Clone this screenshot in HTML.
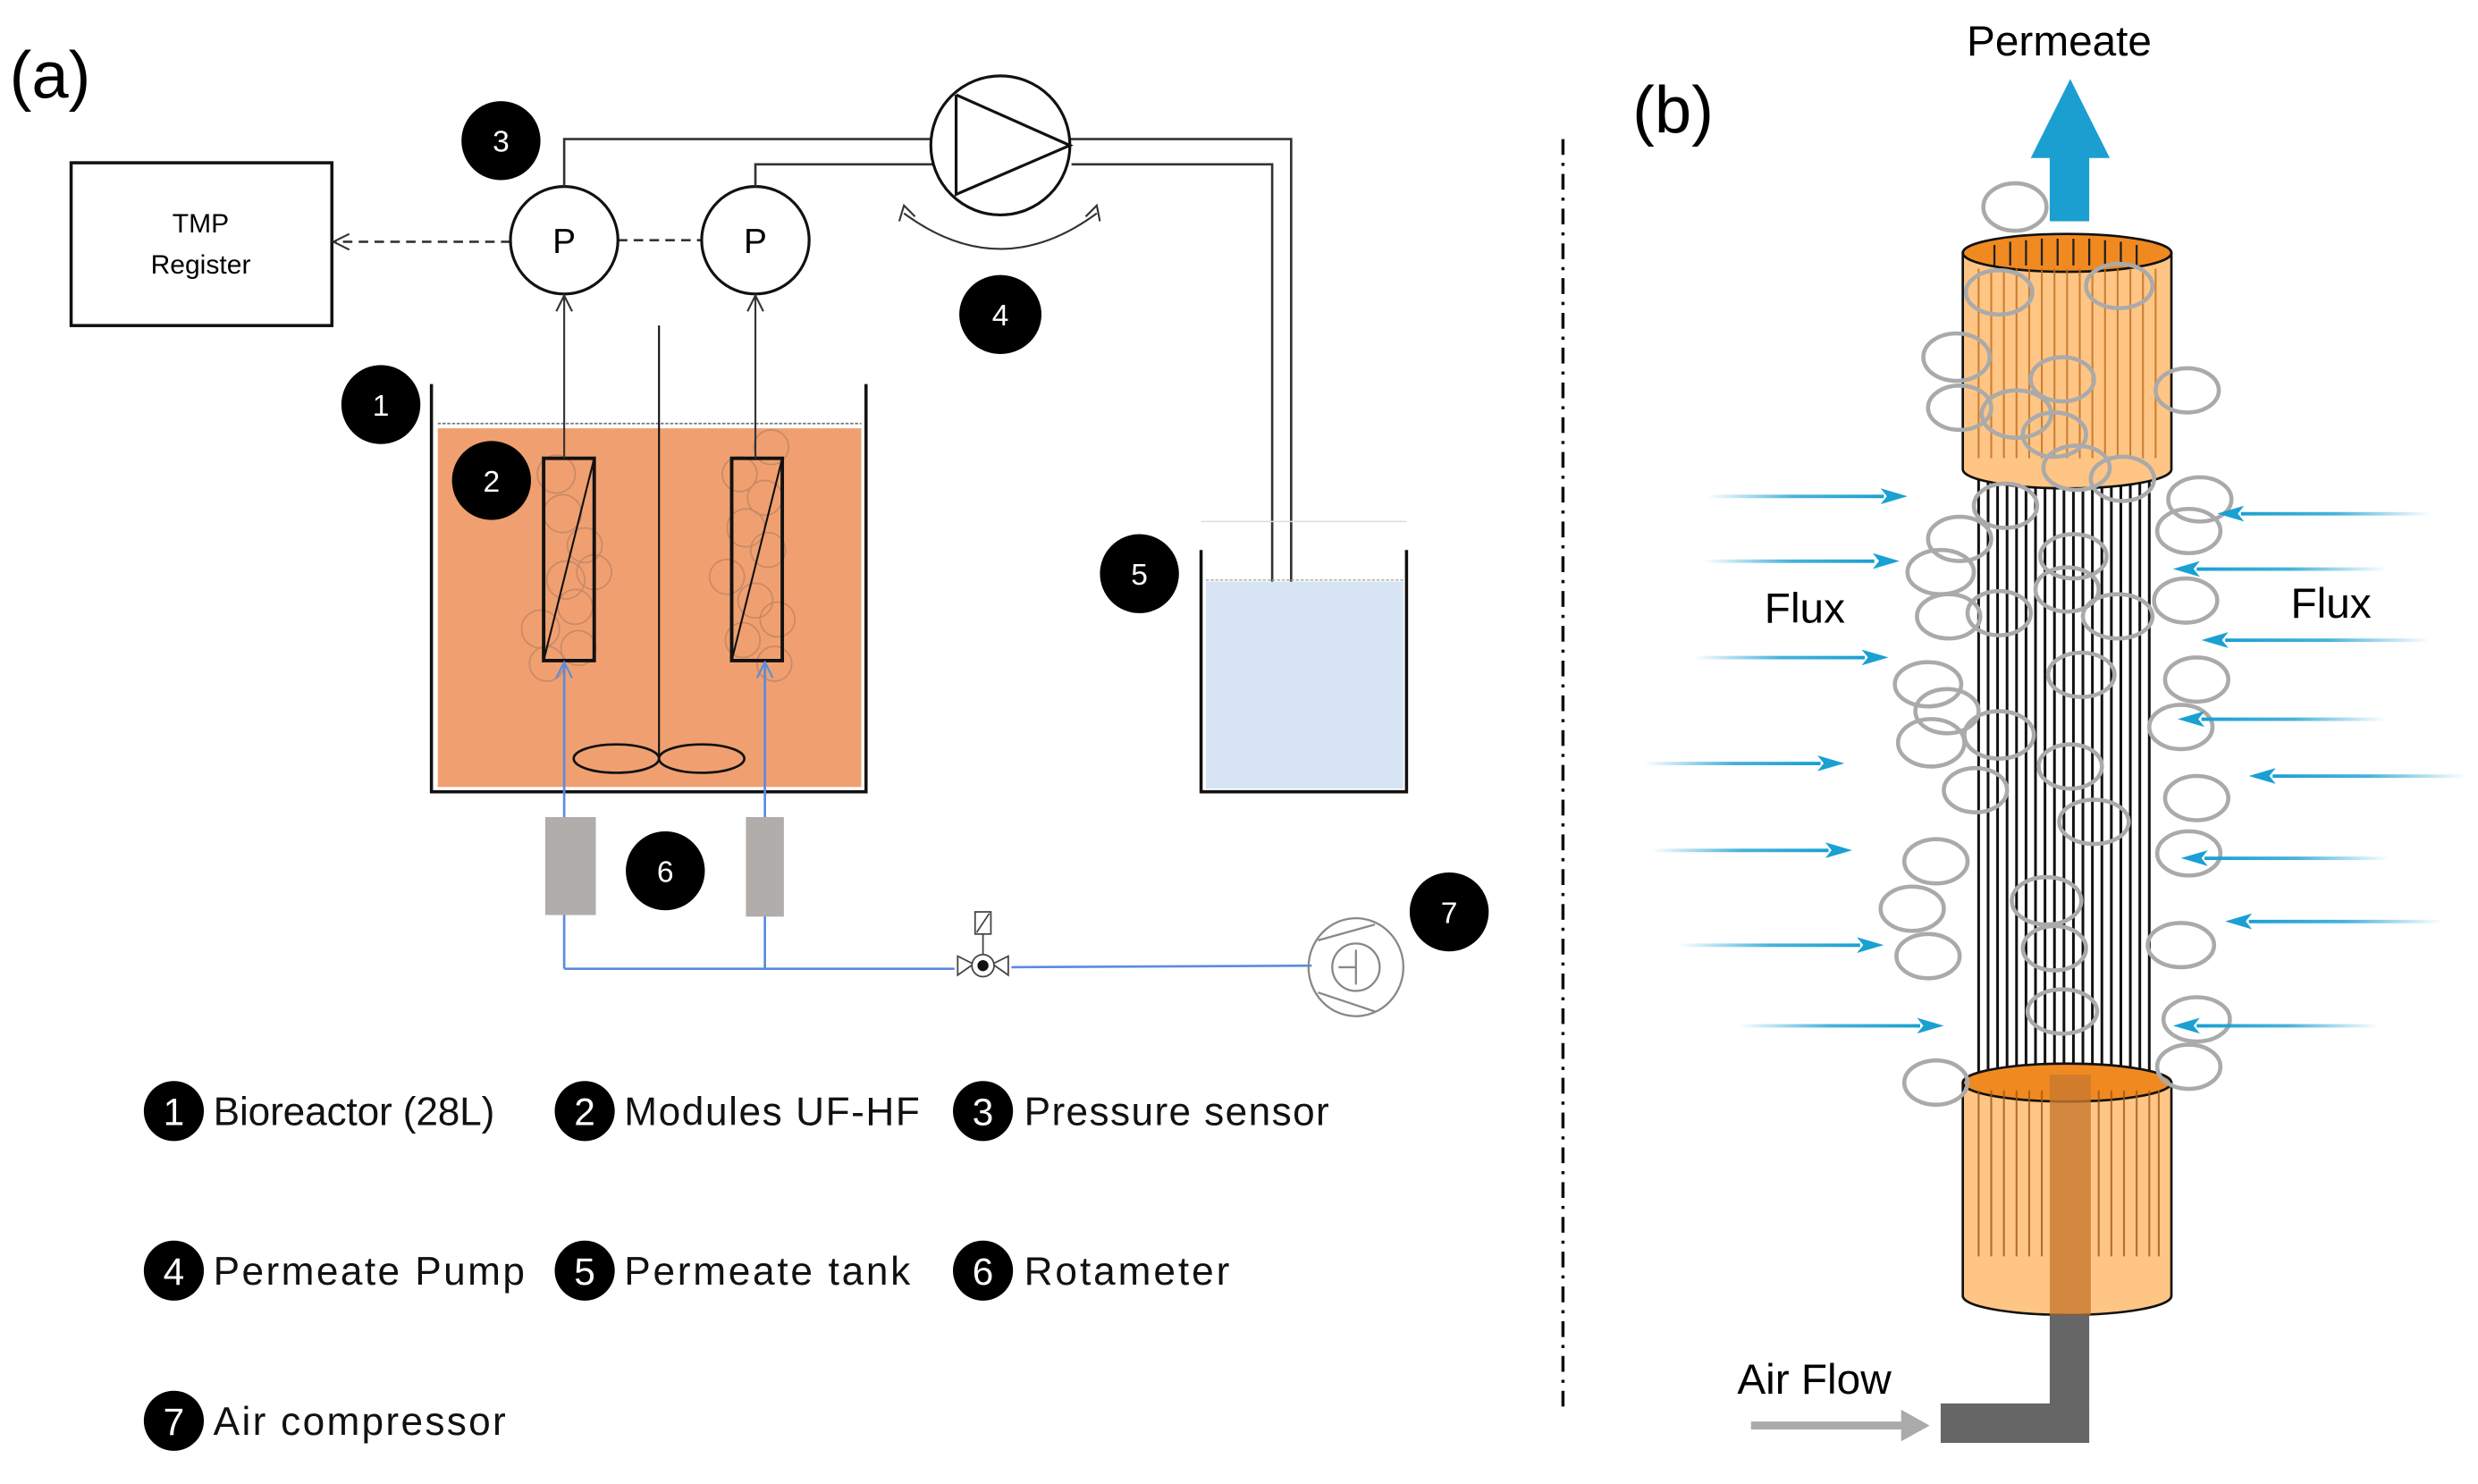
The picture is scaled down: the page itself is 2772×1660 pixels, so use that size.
<!DOCTYPE html>
<html><head><meta charset="utf-8"><style>
html,body{margin:0;padding:0;background:#fff;}
svg{display:block;}
text{font-family:"Liberation Sans",sans-serif;}
</style></head><body>
<svg width="2772" height="1660" viewBox="0 0 1568 939" preserveAspectRatio="none" xmlns="http://www.w3.org/2000/svg">
<defs>
<marker id="oa" markerWidth="12" markerHeight="12" refX="11" refY="6" orient="auto" markerUnits="userSpaceOnUse"><path d="M1,1 L11,6 L1,11" fill="none" stroke="#333" stroke-width="1.2"/></marker>
<marker id="ba" markerWidth="12" markerHeight="12" refX="11" refY="6" orient="auto" markerUnits="userSpaceOnUse"><path d="M1,1 L11,6 L1,11" fill="none" stroke="#5a8be0" stroke-width="1.2"/></marker>
<linearGradient id="gl" x1="0" x2="1" y1="0" y2="0"><stop offset="0" stop-color="#1aa0d2" stop-opacity="0"/><stop offset="0.5" stop-color="#1aa0d2" stop-opacity="0.8"/><stop offset="1" stop-color="#1aa0d2"/></linearGradient>
<linearGradient id="gr" x1="1" x2="0" y1="0" y2="0"><stop offset="0" stop-color="#1aa0d2" stop-opacity="0"/><stop offset="0.5" stop-color="#1aa0d2" stop-opacity="0.8"/><stop offset="1" stop-color="#1aa0d2"/></linearGradient>
</defs>
<text x="6" y="62" font-size="42">(a)</text>
<rect x="45" y="103" width="165" height="103" fill="none" stroke="#111" stroke-width="2"/>
<text x="127" y="147" font-size="17" text-anchor="middle">TMP</text>
<text x="127" y="173" font-size="17" text-anchor="middle">Register</text>
<line x1="323" y1="153" x2="211" y2="153" stroke="#333" stroke-width="1.5" stroke-dasharray="6,4" marker-end="url(#oa)"/>
<line x1="391" y1="152" x2="444" y2="152" stroke="#333" stroke-width="1.5" stroke-dasharray="6,4"/>
<g fill="#fff" stroke="#111" stroke-width="1.8"><circle cx="357" cy="152" r="34"/><circle cx="478" cy="152" r="34"/></g>
<text x="357" y="160" font-size="22" text-anchor="middle">P</text>
<text x="478" y="160" font-size="22" text-anchor="middle">P</text>
<g fill="none" stroke="#333" stroke-width="1.5">
<polyline points="357,118 357,88 590,88"/>
<polyline points="478,118 478,104 591,104"/>
<polyline points="676,88 817,88 817,385"/>
<polyline points="678,104 805,104 805,385"/>
</g>
<circle cx="633" cy="92" r="44" fill="#fff" stroke="#111" stroke-width="1.8"/>
<polyline points="605,60 605,123 677,92 605,60" fill="none" stroke="#111" stroke-width="1.8"/>
<path d="M572,135 Q633,180 694,135" fill="none" stroke="#333" stroke-width="1.2"/>
<path d="M569,140 L572,130 L579,137 M687,137 L694,130 L696,140" fill="none" stroke="#333" stroke-width="1.2"/>
<!-- tank 1 -->
<rect x="277" y="271" width="268" height="227" fill="#f0a070"/>
<line x1="277" y1="268" x2="545" y2="268" stroke="#777" stroke-width="1" stroke-dasharray="2,1"/>
<polyline points="273,243 273,501 548,501 548,243" fill="none" stroke="#111" stroke-width="2"/>
<line x1="417" y1="206" x2="417" y2="478" stroke="#111" stroke-width="1.2"/>
<ellipse cx="390" cy="480" rx="27" ry="9" fill="none" stroke="#111" stroke-width="1.5"/>
<ellipse cx="444" cy="480" rx="27" ry="9" fill="none" stroke="#111" stroke-width="1.5"/>
<g fill="none" stroke="#c98a66" stroke-width="1">
<circle cx="352" cy="300" r="12"/><circle cx="356" cy="325" r="12"/><circle cx="370" cy="345" r="11"/><circle cx="358" cy="367" r="12"/><circle cx="376" cy="362" r="11"/><circle cx="364" cy="384" r="11"/><circle cx="342" cy="398" r="12"/><circle cx="366" cy="410" r="11"/><circle cx="346" cy="420" r="11"/>
<circle cx="468" cy="300" r="11"/><circle cx="488" cy="283" r="11"/><circle cx="484" cy="315" r="11"/><circle cx="472" cy="334" r="12"/><circle cx="486" cy="348" r="11"/><circle cx="460" cy="365" r="11"/><circle cx="478" cy="380" r="11"/><circle cx="492" cy="392" r="11"/><circle cx="470" cy="405" r="11"/><circle cx="490" cy="420" r="11"/>
</g>
<g fill="none" stroke="#111" stroke-width="2.2">
<rect x="344" y="290" width="32" height="128"/><rect x="463" y="290" width="32" height="128"/>
</g>
<line x1="344" y1="418" x2="376" y2="290" stroke="#111" stroke-width="1.2"/>
<line x1="463" y1="418" x2="495" y2="290" stroke="#111" stroke-width="1.2"/>
<line x1="357" y1="290" x2="357" y2="187" stroke="#333" stroke-width="1.2" marker-end="url(#oa)"/>
<line x1="478" y1="290" x2="478" y2="187" stroke="#333" stroke-width="1.2" marker-end="url(#oa)"/>
<!-- air lines -->
<g fill="none" stroke="#5a8be0" stroke-width="1.5">
<line x1="357" y1="613" x2="357" y2="419" marker-end="url(#ba)"/>
<line x1="484" y1="613" x2="484" y2="419" marker-end="url(#ba)"/>
<line x1="357" y1="613" x2="604" y2="613"/>
<line x1="640" y1="612" x2="830" y2="611"/>
</g>
<rect x="345" y="517" width="32" height="62" fill="#b0adab"/>
<rect x="472" y="517" width="24" height="63" fill="#b0adab"/>
<!-- valve -->
<g stroke="#444" stroke-width="1" fill="#fff">
<rect x="617" y="577" width="10" height="14"/><line x1="618" y1="590" x2="626" y2="578"/>
<line x1="622" y1="591" x2="622" y2="604"/>
<path d="M606,605 L616,610 L606,617Z M638,605 L628,610 L638,617Z"/>
<circle cx="622" cy="611" r="7"/>
</g>
<circle cx="622" cy="611" r="3.5" fill="#111"/>
<!-- compressor -->
<g fill="none" stroke="#888" stroke-width="1.3">
<ellipse cx="858" cy="612" rx="30" ry="31"/>
<circle cx="858" cy="612" r="15"/>
<line x1="847" y1="612" x2="858" y2="612"/><line x1="858" y1="601" x2="858" y2="623"/>
<line x1="834" y1="595" x2="870" y2="585"/><line x1="834" y1="628" x2="870" y2="640"/>
</g>
<!-- tank 5 -->
<rect x="763" y="368" width="125" height="131" fill="#d6e4f4"/>
<line x1="763" y1="367" x2="888" y2="367" stroke="#aaa" stroke-width="0.8" stroke-dasharray="2,1"/>
<line x1="760" y1="330" x2="890" y2="330" stroke="#ddd" stroke-width="0.8"/>
<polyline points="760,348 760,501 890,501 890,348" fill="none" stroke="#111" stroke-width="2"/>
<!-- number badges -->
<g fill="#000">
<ellipse cx="317" cy="89" rx="25" ry="25"/><ellipse cx="633" cy="199" rx="26" ry="25"/><ellipse cx="241" cy="256" rx="25" ry="25"/><ellipse cx="311" cy="304" rx="25" ry="25"/><ellipse cx="721" cy="363" rx="25" ry="25"/><ellipse cx="421" cy="551" rx="25" ry="25"/><ellipse cx="917" cy="577" rx="25" ry="25"/>
</g>
<g fill="#fff" font-size="19" text-anchor="middle">
<text x="317" y="96">3</text><text x="633" y="206">4</text><text x="241" y="263">1</text><text x="311" y="311">2</text><text x="721" y="370">5</text><text x="421" y="558">6</text><text x="917" y="584">7</text>
</g>
<!-- legend -->
<g fill="#000"><circle cx="110" cy="703" r="19"/><circle cx="370" cy="703" r="19"/><circle cx="622" cy="703" r="19"/><circle cx="110" cy="804" r="19"/><circle cx="370" cy="804" r="19"/><circle cx="622" cy="804" r="19"/><circle cx="110" cy="899" r="19"/></g>
<g fill="#fff" font-size="24" text-anchor="middle">
<text x="110" y="712">1</text><text x="370" y="712">2</text><text x="622" y="712">3</text><text x="110" y="813">4</text><text x="370" y="813">5</text><text x="622" y="813">6</text><text x="110" y="908">7</text>
</g>
<g font-size="25" fill="#111">
<text x="135" y="712" textLength="178">Bioreactor (28L)</text><text x="395" y="712" textLength="187">Modules UF-HF</text><text x="648" y="712" textLength="193">Pressure sensor</text>
<text x="135" y="813" textLength="197">Permeate Pump</text><text x="395" y="813" textLength="181">Permeate tank</text><text x="648" y="813" textLength="130">Rotameter</text>
<text x="135" y="908" textLength="185">Air compressor</text>
</g>
<line x1="989" y1="88" x2="989" y2="892" stroke="#111" stroke-width="2" stroke-dasharray="10,5,2,5"/>
<!-- panel b -->
<text x="1033" y="84" font-size="42">(b)</text>
<text x="1303" y="35" font-size="27" text-anchor="middle">Permeate</text>
<rect x="1297" y="98" width="25" height="42" fill="#1a9fd0"/>
<polygon points="1285,100 1310,50 1335,100" fill="#1a9fd0"/>
<!-- fibers -->
<g stroke="#111" stroke-width="1.7">
<line x1="1252" y1="296" x2="1252" y2="690"/><line x1="1258" y1="296" x2="1258" y2="690"/><line x1="1264" y1="296" x2="1264" y2="690"/><line x1="1270" y1="296" x2="1270" y2="690"/><line x1="1276" y1="296" x2="1276" y2="690"/><line x1="1282" y1="296" x2="1282" y2="690"/><line x1="1288" y1="296" x2="1288" y2="690"/><line x1="1294" y1="296" x2="1294" y2="690"/><line x1="1300" y1="296" x2="1300" y2="690"/><line x1="1306" y1="296" x2="1306" y2="690"/><line x1="1312" y1="296" x2="1312" y2="690"/><line x1="1318" y1="296" x2="1318" y2="690"/><line x1="1324" y1="296" x2="1324" y2="690"/><line x1="1330" y1="296" x2="1330" y2="690"/><line x1="1336" y1="296" x2="1336" y2="690"/><line x1="1342" y1="296" x2="1342" y2="690"/><line x1="1348" y1="296" x2="1348" y2="690"/><line x1="1354" y1="296" x2="1354" y2="690"/><line x1="1360" y1="296" x2="1360" y2="690"/>
</g>
<!-- top cylinder -->
<path d="M1242,160 L1242,297 A66,12 0 0 0 1374,297 L1374,160Z" fill="#ffc585" stroke="#111" stroke-width="1.5"/>
<ellipse cx="1308" cy="160" rx="66" ry="12" fill="#f08a20" stroke="#111" stroke-width="1.5"/>
<g stroke="#c07020" stroke-width="1.2" opacity="0.8">
<line x1="1252" y1="170" x2="1252" y2="290"/><line x1="1260" y1="170" x2="1260" y2="290"/><line x1="1268" y1="170" x2="1268" y2="290"/><line x1="1276" y1="170" x2="1276" y2="290"/><line x1="1284" y1="170" x2="1284" y2="290"/><line x1="1292" y1="170" x2="1292" y2="290"/><line x1="1300" y1="170" x2="1300" y2="290"/><line x1="1308" y1="170" x2="1308" y2="290"/><line x1="1316" y1="170" x2="1316" y2="290"/><line x1="1324" y1="170" x2="1324" y2="290"/><line x1="1332" y1="170" x2="1332" y2="290"/><line x1="1340" y1="170" x2="1340" y2="290"/><line x1="1348" y1="170" x2="1348" y2="290"/><line x1="1356" y1="170" x2="1356" y2="290"/><line x1="1364" y1="170" x2="1364" y2="290"/>
</g>
<g stroke="#222" stroke-width="1.3"><line x1="1262" y1="155" x2="1262" y2="168"/><line x1="1272" y1="153" x2="1272" y2="168"/><line x1="1282" y1="152" x2="1282" y2="168"/><line x1="1292" y1="151" x2="1292" y2="168"/><line x1="1302" y1="151" x2="1302" y2="168"/><line x1="1312" y1="151" x2="1312" y2="168"/><line x1="1322" y1="151" x2="1322" y2="168"/><line x1="1332" y1="152" x2="1332" y2="168"/><line x1="1342" y1="153" x2="1342" y2="168"/><line x1="1352" y1="155" x2="1352" y2="168"/></g>
<!-- bottom cylinder -->
<path d="M1242,685 L1242,820 A66,12 0 0 0 1374,820 L1374,685Z" fill="#ffc585" stroke="#111" stroke-width="1.5"/>
<ellipse cx="1308" cy="685" rx="66" ry="12" fill="#f08a20" stroke="#111" stroke-width="1.5"/>
<rect x="1297" y="680" width="26" height="152" fill="#c87830" opacity="0.8"/>
<g stroke="#a05a18" stroke-width="1.2" opacity="0.8">
<line x1="1252" y1="690" x2="1252" y2="795"/><line x1="1260" y1="690" x2="1260" y2="795"/><line x1="1268" y1="690" x2="1268" y2="795"/><line x1="1276" y1="690" x2="1276" y2="795"/><line x1="1284" y1="690" x2="1284" y2="795"/><line x1="1292" y1="690" x2="1292" y2="795"/><line x1="1328" y1="690" x2="1328" y2="795"/><line x1="1336" y1="690" x2="1336" y2="795"/><line x1="1344" y1="690" x2="1344" y2="795"/><line x1="1352" y1="690" x2="1352" y2="795"/><line x1="1360" y1="690" x2="1360" y2="795"/><line x1="1366" y1="690" x2="1366" y2="795"/>
</g>
<!-- pipe -->
<path d="M1297,832 L1322,832 L1322,913 L1228,913 L1228,888 L1297,888Z" fill="#666"/>
<text x="1148" y="882" font-size="27" text-anchor="middle">Air Flow</text>
<line x1="1108" y1="902" x2="1205" y2="902" stroke="#aaa" stroke-width="5"/>
<polygon points="1203,892 1221,902 1203,912" fill="#aaa"/>
<!-- bubbles -->
<g fill="none" stroke="#aaa" stroke-width="2.6">
<ellipse cx="1275" cy="131" rx="20" ry="15"/>
<ellipse cx="1265" cy="185" rx="21" ry="14"/><ellipse cx="1341" cy="181" rx="21" ry="14"/>
<ellipse cx="1238" cy="226" rx="21" ry="15"/><ellipse cx="1240" cy="258" rx="20" ry="14"/><ellipse cx="1276" cy="262" rx="22" ry="15"/><ellipse cx="1305" cy="240" rx="20" ry="14"/><ellipse cx="1300" cy="275" rx="20" ry="14"/><ellipse cx="1384" cy="247" rx="20" ry="14"/>
<ellipse cx="1314" cy="296" rx="21" ry="14"/><ellipse cx="1343" cy="303" rx="20" ry="14"/><ellipse cx="1269" cy="320" rx="20" ry="14"/><ellipse cx="1392" cy="316" rx="20" ry="14"/><ellipse cx="1385" cy="336" rx="20" ry="14"/>
<ellipse cx="1240" cy="341" rx="20" ry="14"/><ellipse cx="1228" cy="362" rx="21" ry="14"/><ellipse cx="1312" cy="352" rx="21" ry="14"/><ellipse cx="1308" cy="373" rx="20" ry="14"/><ellipse cx="1233" cy="390" rx="20" ry="14"/><ellipse cx="1265" cy="388" rx="20" ry="14"/><ellipse cx="1340" cy="390" rx="22" ry="14"/><ellipse cx="1383" cy="380" rx="20" ry="14"/>
<ellipse cx="1317" cy="427" rx="21" ry="14"/><ellipse cx="1220" cy="433" rx="21" ry="14"/><ellipse cx="1232" cy="450" rx="20" ry="14"/><ellipse cx="1390" cy="430" rx="20" ry="14"/><ellipse cx="1380" cy="460" rx="20" ry="14"/>
<ellipse cx="1222" cy="470" rx="21" ry="15"/><ellipse cx="1265" cy="465" rx="22" ry="15"/><ellipse cx="1310" cy="485" rx="20" ry="14"/><ellipse cx="1325" cy="520" rx="22" ry="14"/><ellipse cx="1250" cy="500" rx="20" ry="14"/>
<ellipse cx="1390" cy="505" rx="20" ry="14"/><ellipse cx="1385" cy="540" rx="20" ry="14"/><ellipse cx="1225" cy="545" rx="20" ry="14"/><ellipse cx="1210" cy="575" rx="20" ry="14"/><ellipse cx="1220" cy="605" rx="20" ry="14"/>
<ellipse cx="1295" cy="570" rx="22" ry="15"/><ellipse cx="1300" cy="600" rx="20" ry="14"/><ellipse cx="1380" cy="598" rx="21" ry="14"/><ellipse cx="1305" cy="640" rx="22" ry="14"/><ellipse cx="1390" cy="645" rx="21" ry="14"/><ellipse cx="1385" cy="675" rx="20" ry="14"/><ellipse cx="1225" cy="685" rx="20" ry="14"/>
</g>
<!-- flux arrows: left (rect x..x2, head at x2) -->
<g>
<rect x="1080" y="313" width="112" height="2.2" fill="url(#gl)"/><polygon points="1190,309 1207,314 1190,319 1194,314" fill="#1aa0d2"/>
<rect x="1078" y="354" width="108" height="2.2" fill="url(#gl)"/><polygon points="1185,350 1202,355 1185,360 1189,355" fill="#1aa0d2"/>
<rect x="1072" y="415" width="108" height="2.2" fill="url(#gl)"/><polygon points="1178,411 1195,416 1178,421 1182,416" fill="#1aa0d2"/>
<rect x="1040" y="482" width="112" height="2.2" fill="url(#gl)"/><polygon points="1150,478 1167,483 1150,488 1154,483" fill="#1aa0d2"/>
<rect x="1045" y="537" width="112" height="2.2" fill="url(#gl)"/><polygon points="1155,533 1172,538 1155,543 1159,538" fill="#1aa0d2"/>
<rect x="1062" y="597" width="115" height="2.2" fill="url(#gl)"/><polygon points="1175,593 1192,598 1175,603 1179,598" fill="#1aa0d2"/>
<rect x="1100" y="648" width="115" height="2.2" fill="url(#gl)"/><polygon points="1213,644 1230,649 1213,654 1217,649" fill="#1aa0d2"/>
<!-- right -->
<rect x="1418" y="324" width="120" height="2.2" fill="url(#gr)"/><polygon points="1420,320 1403,325 1420,330 1416,325" fill="#1aa0d2"/>
<rect x="1390" y="359" width="120" height="2.2" fill="url(#gr)"/><polygon points="1392,355 1375,360 1392,365 1388,360" fill="#1aa0d2"/>
<rect x="1408" y="404" width="130" height="2.2" fill="url(#gr)"/><polygon points="1410,400 1393,405 1410,410 1406,405" fill="#1aa0d2"/>
<rect x="1393" y="454" width="117" height="2.2" fill="url(#gr)"/><polygon points="1395,450 1378,455 1395,460 1391,455" fill="#1aa0d2"/>
<rect x="1438" y="490" width="122" height="2.2" fill="url(#gr)"/><polygon points="1440,486 1423,491 1440,496 1436,491" fill="#1aa0d2"/>
<rect x="1395" y="542" width="117" height="2.2" fill="url(#gr)"/><polygon points="1397,538 1380,543 1397,548 1393,543" fill="#1aa0d2"/>
<rect x="1423" y="582" width="122" height="2.2" fill="url(#gr)"/><polygon points="1425,578 1408,583 1425,588 1421,583" fill="#1aa0d2"/>
<rect x="1390" y="648" width="115" height="2.2" fill="url(#gr)"/><polygon points="1392,644 1375,649 1392,654 1388,649" fill="#1aa0d2"/>
</g>
<text x="1142" y="394" font-size="27" text-anchor="middle">Flux</text>
<text x="1475" y="391" font-size="27" text-anchor="middle">Flux</text>
</svg>
</body></html>
